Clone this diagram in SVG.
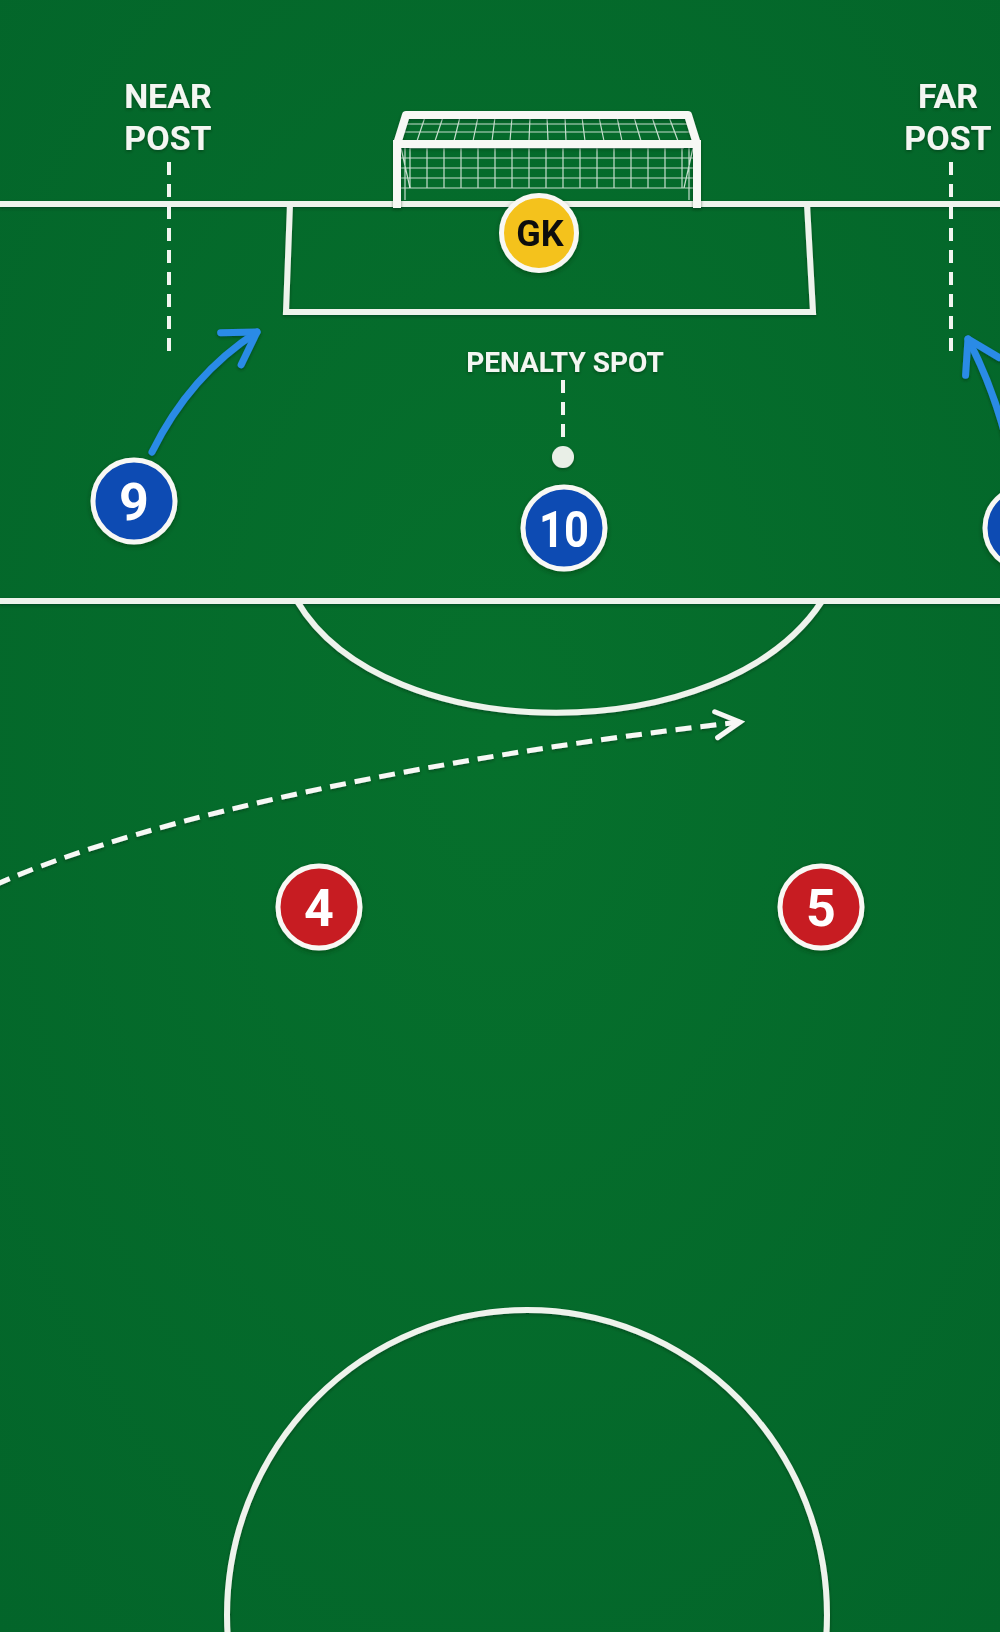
<svg xmlns="http://www.w3.org/2000/svg" width="1000" height="1632" viewBox="0 0 1000 1632">
<defs>
<style>
.line{fill:none;stroke:#eef3ec;stroke-width:6;stroke-linejoin:miter}
.frame{fill:none;stroke:#f7f8f5;stroke-width:8;stroke-linecap:square;stroke-linejoin:round}
.net{fill:none;stroke:#e8f2ea;stroke-width:1.2;opacity:0.85}
.guide{fill:none;stroke:#f2f5f0;stroke-width:4;stroke-dasharray:13 9}
.run{fill:none;stroke:#2a8be6;stroke-width:7;stroke-linecap:round}
.pass{fill:none;stroke:#f7f8f5;stroke-width:5;stroke-dasharray:16 9}
.label{font-family:Roboto,"Liberation Sans",sans-serif;font-weight:700;fill:#f4f6f2;text-anchor:middle}
.num{font-family:Roboto,"Liberation Sans",sans-serif;font-weight:700;fill:#ffffff;text-anchor:middle}
.disc{stroke:#f8f8f4;stroke-width:5}
.blue{fill:#0d4bb3}
.red{fill:#c71f22}
.yellow{fill:#f4c21c}
</style>
<radialGradient id="bg" cx="0.5" cy="0.45" r="0.75">
<stop offset="0" stop-color="#06702c"/>
<stop offset="1" stop-color="#03652a"/>
</radialGradient>
<filter id="sh" x="-30%" y="-30%" width="160%" height="160%">
<feDropShadow dx="0" dy="2" stdDeviation="2.5" flood-color="#002a10" flood-opacity="0.45"/>
</filter>
<filter id="tsh" x="-20%" y="-30%" width="140%" height="160%">
<feDropShadow dx="0" dy="1.5" stdDeviation="1.5" flood-color="#002a10" flood-opacity="0.5"/>
</filter>
<marker id="ah-blue" markerUnits="userSpaceOnUse" orient="auto" refX="0" refY="0" markerWidth="10" markerHeight="10" overflow="visible">
<path d="M-31,-19 L0,0 L-31,19" fill="none" stroke="#2a8be6" stroke-width="7" stroke-linecap="round" stroke-linejoin="round"/>
</marker>
<marker id="ah-white" markerUnits="userSpaceOnUse" orient="auto" refX="0" refY="0" markerWidth="10" markerHeight="10" overflow="visible">
<path d="M-24,-13 L0,0 L-24,13" fill="none" stroke="#f7f8f5" stroke-width="5" stroke-linecap="round" stroke-linejoin="miter"/>
</marker>
</defs>

<rect x="0" y="0" width="1000" height="1632" fill="url(#bg)"/>

<g id="pitch" filter="url(#tsh)">
<line class="line" x1="0" y1="204" x2="1000" y2="204"/>
<path class="line" d="M290,204 L286,312 L813,312 L807,204"/>
<line class="line" x1="0" y1="601" x2="1000" y2="601"/>
<path class="line" d="M297,601 C385,750 725,750 822,601"/>
<ellipse class="line" cx="527" cy="1615" rx="300" ry="305"/>
</g>

<g id="goal">
<path class="net" d="M410,148 L684,148 M410,158 L684,158 M410,168 L684,168 M410,178 L684,178 M410,188 L684,188
M410,148 L410,188 M427,148 L427,188 M444,148 L444,188 M461,148 L461,188 M478,148 L478,188 M495,148 L495,188 M512,148 L512,188 M529,148 L529,188 M546,148 L546,188 M563,148 L563,188 M580,148 L580,188 M597,148 L597,188 M614,148 L614,188 M631,148 L631,188 M648,148 L648,188 M665,148 L665,188 M682,148 L682,188"/>
<path class="net" d="M404,124 L690,124 M401,132 L693,132
M408,117 L398,141 M425,117 L417,141 M443,117 L435,141 M460,117 L454,141 M478,117 L473,141 M495,117 L492,141 M512,117 L510,141 M530,117 L529,141 M547,117 L548,141 M565,117 L566,141 M582,117 L585,141 M599,117 L604,141 M617,117 L622,141 M634,117 L641,141 M652,117 L660,141 M669,117 L678,141 M686,117 L697,141"/>
<path class="net" d="M401,158 L410,158 M401,168 L410,168 M401,178 L410,178 M401,188 L410,188 M405,148 L405,200 M401,148 L410,188
M693,158 L684,158 M693,168 L684,168 M693,178 L684,178 M693,188 L684,188 M689,148 L689,200 M693,148 L684,188"/>
<path class="frame" d="M397,204 L397,144 L406,115 L688,115 L697,144 L697,204 M397,144 L697,144" filter="url(#tsh)"/>
</g>

<g id="connectors">
<line class="guide" x1="169" y1="162" x2="169" y2="355"/>
<line class="guide" x1="951" y1="162" x2="951" y2="355"/>
<line class="guide" x1="563" y1="380" x2="563" y2="438"/>
<path class="run" d="M152,452 Q190,375 257,332" marker-end="url(#ah-blue)" filter="url(#tsh)"/>
<path class="run" d="M1015,478 Q1000,400 968,339" marker-end="url(#ah-blue)" filter="url(#tsh)"/>
<path class="pass" d="M-5,885 C150,815 450,755 740,722" marker-end="url(#ah-white)" filter="url(#tsh)"/>
</g>

<g id="penalty-spot">
<circle cx="563" cy="457" r="11" fill="#e9efe7" filter="url(#tsh)"/>
</g>

<g id="label-near-post" filter="url(#tsh)">
<text class="label" x="168" y="108" font-size="34">NEAR</text>
<text class="label" x="168" y="150" font-size="34">POST</text>
</g>
<g id="label-far-post" filter="url(#tsh)">
<text class="label" x="948" y="108" font-size="34">FAR</text>
<text class="label" x="948" y="150" font-size="34">POST</text>
</g>
<g id="label-penalty-spot" filter="url(#tsh)">
<text class="label" x="565" y="372" font-size="28">PENALTY SPOT</text>
</g>

<g id="player-gk" filter="url(#sh)">
<circle class="disc yellow" cx="539" cy="233" r="37.5"/>
<text class="num" x="540" y="246" font-size="36" fill="#111111" style="fill:#111111">GK</text>
</g>
<g id="player-9" filter="url(#sh)">
<circle class="disc blue" cx="134" cy="501" r="41"/>
<text class="num" x="134" y="520" font-size="52">9</text>
</g>
<g id="player-10" filter="url(#sh)">
<circle class="disc blue" cx="564" cy="528" r="41"/>
<text class="num" x="564" y="547" font-size="50" textLength="50" lengthAdjust="spacingAndGlyphs">10</text>
</g>
<g id="player-right" filter="url(#sh)">
<circle class="disc blue" cx="1026" cy="528" r="41"/>
</g>
<g id="player-4" filter="url(#sh)">
<circle class="disc red" cx="319" cy="907" r="41"/>
<text class="num" x="319" y="926" font-size="52">4</text>
</g>
<g id="player-5" filter="url(#sh)">
<circle class="disc red" cx="821" cy="907" r="41"/>
<text class="num" x="821" y="926" font-size="52">5</text>
</g>
</svg>
